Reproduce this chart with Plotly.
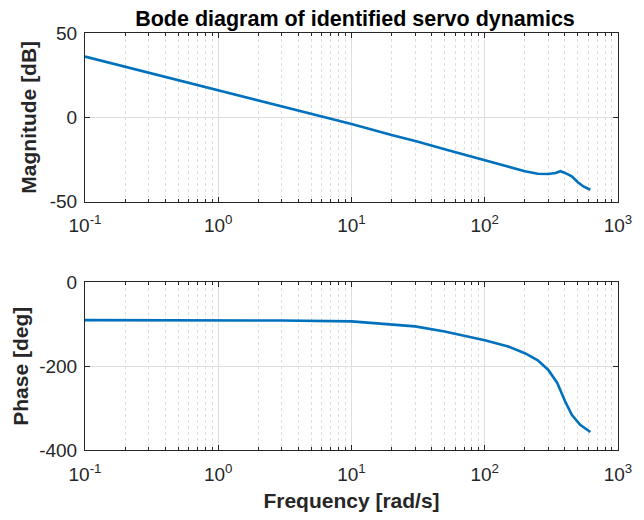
import plotly.graph_objects as go
from plotly.subplots import make_subplots

# Identified servo frequency response
freq_mag = [0.1, 0.2, 0.316, 0.5, 1, 2, 3.16, 5, 10, 20, 31.6, 50, 100,
            150, 200, 250, 300, 340, 370, 400, 450, 500, 550, 620]
magnitude_db = [36, 30, 26, 22, 16, 10, 6, 2, -4, -10.5, -14.5, -19, -25.7,
                -29.5, -32, -33.5, -33.6, -33, -32, -33, -35, -38.5, -41, -43]

freq_phase = [0.1, 0.3, 1, 3, 10, 20, 30, 50, 100, 150, 200, 250, 300,
              350, 400, 450, 520, 620]
phase_deg = [-90, -90, -90.5, -91, -93, -100, -105, -117, -138, -153, -169,
             -186, -209, -240, -283, -316, -340, -357]

decade_vals = [0.1, 1, 10, 100, 1000]
decade_text = ["10<sup>-1</sup>", "10<sup>0</sup>", "10<sup>1</sup>",
               "10<sup>2</sup>", "10<sup>3</sup>"]
minor_vals = [m * d for d in [0.1, 1, 10, 100] for m in range(2, 10)]

mag_ticks = [-50, 0, 50]
mag_tick_text = ["-50", "0", "50"]
phase_ticks = [-400, -200, 0]
phase_tick_text = ["-400", "-200", "0"]

line_color = "#0072BD"
axis_color = "#262626"
grid_color = "#dedede"
font_family = "Liberation Sans, Arial, sans-serif"
tick_size = 19
label_size = 21

fig = make_subplots(rows=2, cols=1, vertical_spacing=0.194)

fig.add_trace(go.Scatter(x=freq_mag, y=magnitude_db, mode="lines",
                         line=dict(color=line_color, width=2.6),
                         showlegend=False), row=1, col=1)
fig.add_trace(go.Scatter(x=freq_phase, y=phase_deg, mode="lines",
                         line=dict(color=line_color, width=2.6),
                         showlegend=False), row=2, col=1)

xaxis_style = dict(
    type="log", range=[-1, 3], tickvals=decade_vals, ticktext=decade_text,
    ticks="inside", ticklen=5, tickcolor=axis_color, mirror="allticks",
    showline=True, linecolor=axis_color, linewidth=1,
    showgrid=True, gridcolor=grid_color, gridwidth=1,
    tickfont=dict(size=tick_size, color=axis_color, family=font_family),
    ticklabelstandoff=7, zeroline=False,
    minor=dict(tickvals=minor_vals, ticks="inside", ticklen=3,
               tickcolor=axis_color, showgrid=True, gridcolor=grid_color,
               griddash="dot", gridwidth=1),
)
fig.update_xaxes(**xaxis_style)
fig.update_xaxes(title=dict(text="<b>Frequency [rad/s]</b>", standoff=9,
                            font=dict(size=label_size, color=axis_color,
                                      family=font_family)), row=2, col=1)

yaxis_style = dict(
    ticks="inside", ticklen=5, tickcolor=axis_color, mirror="allticks",
    showline=True, linecolor=axis_color, linewidth=1,
    showgrid=True, gridcolor=grid_color, gridwidth=1, zeroline=False,
    tickfont=dict(size=tick_size, color=axis_color, family=font_family),
    ticklabelstandoff=3,
)
fig.update_yaxes(**yaxis_style)
fig.update_yaxes(range=[-50, 50], tickvals=mag_ticks, ticktext=mag_tick_text,
                 title=dict(text="<b>Magnitude [dB]</b>", standoff=7,
                            font=dict(size=label_size, color=axis_color,
                                      family=font_family)), row=1, col=1)
fig.update_yaxes(range=[-400, 0], tickvals=phase_ticks,
                 ticktext=phase_tick_text,
                 title=dict(text="<b>Phase [deg]</b>", standoff=4,
                            font=dict(size=label_size, color=axis_color,
                                      family=font_family)), row=2, col=1)

fig.update_layout(
    width=644, height=520,
    margin=dict(l=85, r=19, t=33, b=68),
    paper_bgcolor="white", plot_bgcolor="white",
    title=dict(text="<b>Bode diagram of identified servo dynamics</b>",
               x=355 / 644, xanchor="center", y=1 - 18 / 520,
               yanchor="middle",
               font=dict(size=21.5, color="#000000", family=font_family)),
)
fig.update_yaxes(domain=[0.5957, 1.0], row=1, col=1)
fig.update_yaxes(domain=[0.0, 0.4019], row=2, col=1)

fig.write_html("out.html")
